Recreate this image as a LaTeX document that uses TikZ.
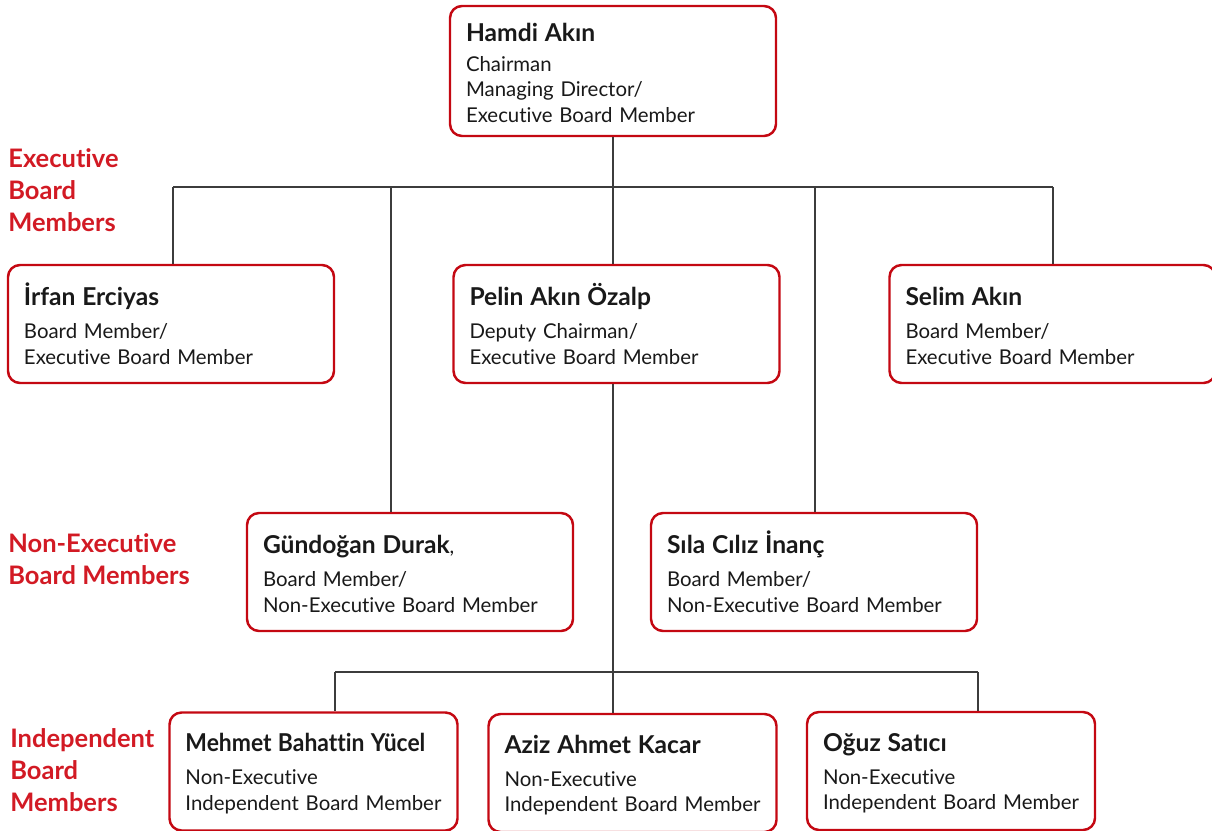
\documentclass[tikz,border=0pt]{standalone}
\usepackage{fontspec}
\setmainfont[Ligatures=NoCommon]{Lato}
\usepackage{graphicx}
\usepackage{tikz}

\definecolor{boxred}{RGB}{196,8,18}
\definecolor{labelred}{RGB}{210,26,36}
\definecolor{linegray}{RGB}{60,60,60}
\newcommand{\pname}[1]{{\fontsize{14}{15}\selectfont\bfseries\vphantom{İg}#1}}

\begin{document}
\begin{tikzpicture}
	[
	x=0.2mm, y=-0.2mm,
	member/.style={draw=boxred, line width=1.4pt, rounded corners=2.4mm, fill=white,
		align=left, inner xsep=3.2mm, inner ysep=0pt, text width=58.8mm,
		minimum height=23.6mm, font=\fontsize{11.6}{14.7}\selectfont, text=black!90},
	narrow/.style={text width=51.2mm},
	group/.style={anchor=west, align=left, inner sep=0pt, text=labelred,
		font=\fontsize{14.5}{18.2}\selectfont\bfseries},
	link/.style={draw=linegray, line width=0.8pt},
	]
		\useasboundingbox (0,0) rectangle (1212,831);
		
		% chairman
		\node[member, minimum height=26mm] (hamdi) at 	( 613.0,  71.0 ) {\pname{Hamdi Akın}\\[2pt] Chairman\\ Managing Director/\\ Executive Board Member};
		
		% executive board members
		\node[member] (irfan) at 		( 171.0, 324.0 ) {\pname{İrfan Erciyas}\\[4pt] Board Member/\\ Executive Board Member};
		\node[member] (pelin) at 		( 616.5, 324.0 ) {\pname{Pelin Akın Özalp}\\[4pt] Deputy Chairman/\\ Executive Board Member};
		\node[member] (selim) at 		(1052.5, 324.0 ) {\pname{Selim Akın}\\[4pt] Board Member/\\ Executive Board Member};
		
		% non-executive board members
		\node[member] (gund) at 		( 410.0, 572.0 ) {\pname{Gündoğan Durak},\\[4pt] Board Member/\\ Non-Executive Board Member};
		\node[member] (sila) at 		( 814.0, 572.0 ) {\pname{Sıla Cılız İnanç}\\[4pt] Board Member/\\ Non-Executive Board Member};
		
		% independent board members
		\node[member, narrow] (mehmet) at 	( 313.5, 771.5 ) {\pname{\scalebox{0.93}[1]{Mehmet Bahattin Yücel}}\\[4pt] Non-Executive\\ Independent Board Member};
		\node[member, narrow] (aziz) at 	( 632.5, 773.0 ) {\pname{Aziz Ahmet Kacar}\\[4pt] Non-Executive\\ Independent Board Member};
		\node[member, narrow] (oguz) at 	( 951.0, 771.0 ) {\pname{Oğuz Satıcı}\\[4pt] Non-Executive\\ Independent Board Member};
		
		% group labels
		\node[group] (gexec) at 		(   8.0, 190.0 ) {Executive\\ Board\\ Members};
		\node[group] (gnonex) at 		(   8.0, 559.0 ) {Non-Executive\\ Board Members};
		\node[group] (gindep) at 		(  10.0, 770.0 ) {Independent\\ Board\\ Members};
		
		% upper bus
		\coordinate (e1) at ( 173.0, 187.0 );
		\coordinate (e2) at ( 391.0, 187.0 );
		\coordinate (e3) at ( 613.0, 187.0 );
		\coordinate (e4) at ( 815.0, 187.0 );
		\coordinate (e5) at (1053.0, 187.0 );
		
		% lower bus
		\coordinate (i1) at ( 335.0, 672.0 );
		\coordinate (i2) at ( 613.0, 672.0 );
		\coordinate (i3) at ( 978.0, 672.0 );
		
		\draw[link] (hamdi.south) -- (e3);
		\draw[link] (e1) -- (e5);
		\foreach \from/\to in {e1/irfan,e2/gund,e3/pelin,e4/sila,e5/selim} \draw[link] (\from) -- (\from |- \to.north);
		
		\draw[link] (i2 |- pelin.south) -- (i2);
		\draw[link] (i1) -- (i3);
		\foreach \from/\to in {i1/mehmet,i2/aziz,i3/oguz} \draw[link] (\from) -- (\from |- \to.north);
		
	\end{tikzpicture}
\end{document}
